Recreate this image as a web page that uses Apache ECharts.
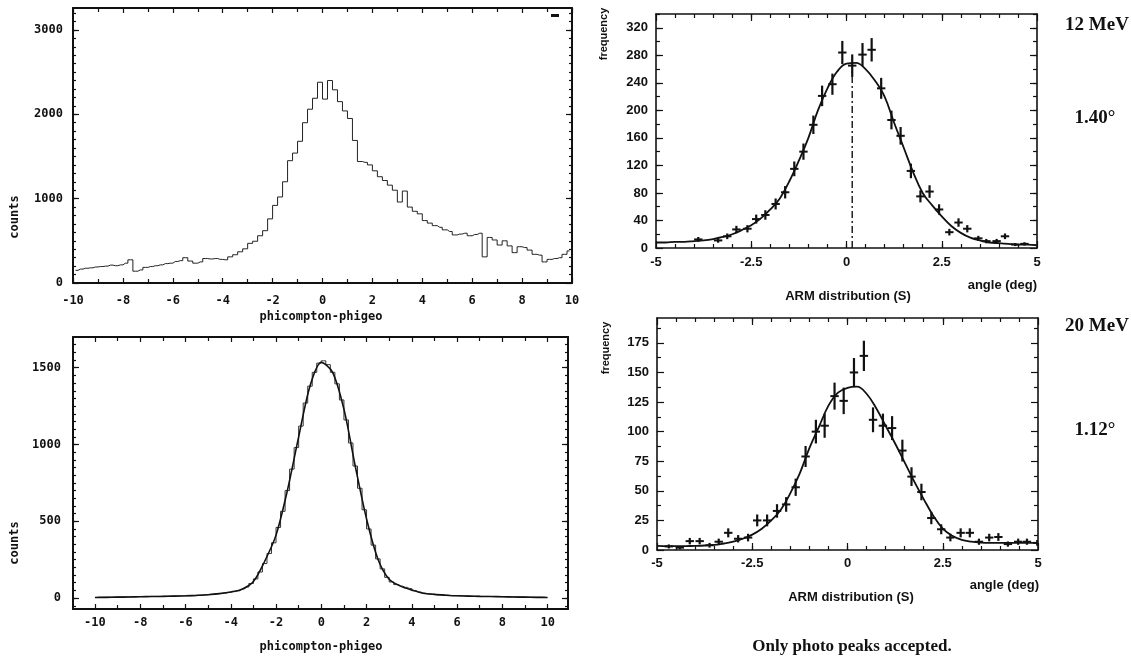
<!DOCTYPE html>
<html><head><meta charset="utf-8">
<script src="https://cdn.jsdelivr.net/npm/echarts@6/dist/echarts.min.js"></script>
<style>html,body{margin:0;padding:0;background:#fff}#c{width:1131px;height:660px}</style>
</head><body><div id="c"></div>
<script>
// ---------- DATA ----------
// Top-left: histogram phicompton-phigeo (bins of 0.2 from -10 to 10)
const tlBinStart = -10, tlBinWidth = 0.2;
const tlCounts = [
 150,165,175,180,190,195,200,212,205,215,
 235,275,140,155,185,195,205,215,230,235,
 255,265,300,260,235,250,290,285,290,280,
 275,310,335,370,405,470,495,560,620,760,
 920,1020,1200,1450,1540,1680,1900,2060,2190,2380,
 2180,2400,2290,2150,2040,1950,1690,1440,1430,1400,
 1330,1260,1215,1160,1100,960,1090,900,850,820,
 740,710,680,660,630,610,570,580,590,560,
 575,590,310,540,510,450,500,440,360,430,
 420,390,340,330,250,280,290,300,340,380];
// Bottom-left: histogram + fit
const blBinStart = -10, blBinWidth = 0.2;
const blCounts = [
 5,5,6,6,7,7,8,8,9,10,
 10,10,11,11,12,12,13,13,14,14,
 15,16,18,20,22,25,27,30,33,37,
 42,48,60,72,95,125,170,225,290,360,
 460,565,700,840,980,1120,1270,1380,1470,1530,
 1545,1520,1470,1395,1290,1160,1010,860,715,575,
 450,345,255,190,135,105,88,78,70,62,
 48,38,32,28,25,22,20,19,17,16,
 15,14,13,12,12,11,11,10,10,9,
 9,8,8,7,7,6,6,5,5,5];
const blFitX = [-10,-9.5,-9,-8.5,-8,-7.5,-7,-6.5,-6,-5.5,-5,-4.5,-4,-3.5,-3,-2.5,-2,-1.5,-1,-0.5,0,0.5,1,1.5,2,2.5,3,3.5,4,4.5,5,5.5,6,6.5,7,7.5,8,8.5,9,9.5,10];
const blFitY = [4,5,6,7,9,10,11,13,15,18,22,29,40,58,108,240,410,700,1050,1380,1535,1470,1230,860,515,255,122,78,52,32,24,19,15,13,11,10,9,7,6,5,4];

// Top-right: ARM distribution 12 MeV
const arm12X = [-3.89,-3.37,-3.13,-2.89,-2.6,-2.37,-2.13,-1.86,-1.61,-1.37,-1.13,-0.87,-0.64,-0.37,-0.11,0.15,0.42,0.66,0.91,1.18,1.42,1.69,1.94,2.18,2.43,2.70,2.94,3.17,3.46,3.67,3.94,4.16,4.43,4.67];
const arm12Y = [12.5,11,17,27,28,42,48,64,81,115,140,179,221,238,284,265,281,288,232,186,163,112,75,82,56,23,37,28,14,10,10,17,5,6];
const arm12Err = [3.5,3.3,4.1,5.2,5.3,6.5,6.9,8,9,10.7,11.8,13.4,14.9,15.4,16.9,16.3,16.8,17,15.2,13.6,12.8,10.6,8.7,9.1,7.5,4.8,6.1,5.3,3.7,3.2,3.2,4.1,2.2,2.4];
const armFitX = [-5,-4.75,-4.5,-4.25,-4,-3.75,-3.5,-3.25,-3,-2.75,-2.5,-2.25,-2,-1.75,-1.5,-1.25,-1,-0.75,-0.5,-0.25,0,0.25,0.5,0.75,1,1.25,1.5,1.75,2,2.25,2.5,2.75,3,3.25,3.5,3.75,4,4.25,4.5,4.75,5];
const arm12Fit = [8,8,9,9,10,11,13,16,20,26,33,43,56,72,97,127,160,200,232,256,268,269,260,243,220,182,146,110,80,62,46,32,22,15,11,8,7,6,5,5,4];
const arm12Centre = 0.15, arm12CentreTop = 265;

// Bottom-right: ARM distribution 20 MeV
const arm20X = [-4.69,-4.4,-4.14,-3.88,-3.62,-3.38,-3.13,-2.87,-2.61,-2.37,-2.11,-1.85,-1.61,-1.36,-1.10,-0.83,-0.60,-0.34,-0.10,0.17,0.43,0.67,0.93,1.17,1.44,1.68,1.94,2.2,2.46,2.70,2.97,3.21,3.45,3.72,3.96,4.21,4.48,4.71,4.98];
const arm20Y = [3,2,7.5,7.5,4,7,14.5,9.5,10.5,25,25,33,38.5,53,79,100,105,130,126,150,164,110,105,103,84,62,49,27,17.5,10.5,14.5,14.5,7,10.5,11,5,7,7,6];
const arm20Err = [1.7,1.4,2.7,2.7,2,2.6,3.8,3.1,3.2,5,5,5.7,6.2,7.3,8.9,10,10.2,11.4,11.2,12.2,12.8,10.5,10.2,10.1,9.2,7.9,7,5.2,4.2,3.2,3.8,3.8,2.6,3.2,3.3,2.2,2.6,2.6,2.4];
const arm20Fit = [3.5,3.3,3.2,3.3,3.5,3.8,4.3,5.5,7,9.5,13,18,25,34,48,65,86,104,122,133,137,138,132,120,105,90,74,58,43,29,18,12,8.5,7,6.2,6,6,6,6,6,6];

// Tick labels
const tlXLabels = [-10,-8,-6,-4,-2,0,2,4,6,8,10];
const tlYLabels = [0,1000,2000,3000];
const blXLabels = [-10,-8,-6,-4,-2,0,2,4,6,8,10];
const blYLabels = [0,500,1000,1500];
const armXLabels = [-5,-2.5,0,2.5,5];
const arm12YLabels = [0,40,80,120,160,200,240,280,320];
const arm20YLabels = [0,25,50,75,100,125,150,175];

// ---------- HELPERS ----------
function range(a, b, s) { const r = []; for (let v = a; v <= b + 1e-9; v += s) r.push(Math.round(v * 1000) / 1000); return r; }
const INK = '#111';
const plotFont = {fontFamily: '"DejaVu Sans Mono"', fontWeight: 'bold', fontSize: 12, color: INK};
const armFont = {fontFamily: '"Liberation Sans", Arial', fontWeight: 'bold', fontSize: 13, color: INK};

const xAxes = [], yAxes = [];
function frame(list, isX, grid, min, max, major, minor, labels, lab, majLen, minLen, lineW) {
  const start = list.length;
  (isX ? ['bottom', 'top'] : ['left', 'right']).forEach((p, i) => {
    [true, false].forEach(isMajor => {
      list.push({
        type: 'value', gridIndex: grid, position: p, min: min, max: max,
        axisLine: {show: isMajor, onZero: false, lineStyle: {color: INK, width: lineW}},
        axisTick: {show: true, inside: true, length: isMajor ? majLen : minLen,
                   customValues: isMajor ? major : minor, lineStyle: {color: INK, width: 1.2}},
        axisLabel: (i === 0 && isMajor) ? Object.assign({show: true, customValues: labels, margin: lab.margin,
                   formatter: v => String(v)}, lab.style) : {show: false},
        splitLine: {show: false}
      });
    });
  });
  return start;
}

// Grids: 0 TL, 1 BL, 2 TR, 3 BR
const grids = [
  {left: 73, top: 8, width: 499, height: 275},
  {left: 73, top: 337, width: 495, height: 272},
  {left: 656, top: 14, width: 381, height: 234},
  {left: 657, top: 318, width: 381, height: 232}
];

const tlx = frame(xAxes, true, 0, -10, 10, range(-10, 10, 2), range(-9, 9, 2), tlXLabels, {margin: 12, style: plotFont}, 5, 4, 2);
const tly = frame(yAxes, false, 0, 0, 3260, tlYLabels, range(100, 3200, 100), tlYLabels, {margin: 10, style: plotFont}, 6, 3, 2);
const blx = frame(xAxes, true, 1, -10.97, 10.9, range(-10, 10, 2), range(-9, 9, 2), blXLabels, {margin: 8, style: plotFont}, 5, 4, 2);
const bly = frame(yAxes, false, 1, -71, 1700, blYLabels, range(-50, 1650, 50), blYLabels, {margin: 12, style: plotFont}, 6, 3, 2);
const trx = frame(xAxes, true, 2, -5, 5, armXLabels, range(-4.5, 4.5, 0.5), armXLabels, {margin: 8, style: armFont}, 7, 4, 1.6);
const try_ = frame(yAxes, false, 2, 0, 340, arm12YLabels, range(20, 340, 20), arm12YLabels, {margin: 8, style: armFont}, 7, 4, 1.6);
const brx = frame(xAxes, true, 3, -5, 5, armXLabels, range(-4.5, 4.5, 0.5), armXLabels, {margin: 7, style: armFont}, 7, 4, 1.6);
const bry = frame(yAxes, false, 3, 0, 196, arm20YLabels, range(12.5, 187.5, 25), arm20YLabels, {margin: 8, style: armFont}, 7, 4, 1.6);

function hist(start, w, counts) { return counts.map((c, i) => [start + w * (i + 0.5), c]); }
function zip(xs, ys) { return xs.map((x, i) => [x, ys[i]]); }
function zip3(xs, ys, es) { return xs.map((x, i) => [x, ys[i], es[i]]); }

function crossRender(halfW) {
  return function (params, api) {
    const x = api.value(0), y = api.value(1), e = api.value(2);
    const a = api.coord([x, y + e]), b = api.coord([x, y - e]);
    const l = api.coord([x - halfW, y]), r = api.coord([x + halfW, y]);
    return {type: 'group', children: [
      {type: 'line', shape: {x1: a[0], y1: a[1], x2: b[0], y2: b[1]}, style: {stroke: INK, lineWidth: 2.2}},
      {type: 'line', shape: {x1: l[0], y1: l[1], x2: r[0], y2: r[1]}, style: {stroke: INK, lineWidth: 2}}
    ]};
  };
}

const series = [
  {type: 'line', xAxisIndex: tlx, yAxisIndex: tly, step: 'middle', showSymbol: false, silent: true,
   data: hist(tlBinStart, tlBinWidth, tlCounts), lineStyle: {color: '#222', width: 1}},
  {type: 'line', xAxisIndex: blx, yAxisIndex: bly, step: 'middle', showSymbol: false, silent: true,
   data: hist(blBinStart, blBinWidth, blCounts), lineStyle: {color: '#333', width: 1}},
  {type: 'line', xAxisIndex: blx, yAxisIndex: bly, smooth: 0.3, showSymbol: false, silent: true,
   data: zip(blFitX, blFitY), lineStyle: {color: INK, width: 1.6}},
  {type: 'line', xAxisIndex: trx, yAxisIndex: try_, smooth: 0.4, showSymbol: false, silent: true,
   data: zip(armFitX, arm12Fit), lineStyle: {color: INK, width: 1.8}},
  {type: 'line', xAxisIndex: trx, yAxisIndex: try_, showSymbol: false, silent: true,
   data: [[arm12Centre, 0], [arm12Centre, arm12CentreTop]], lineStyle: {color: INK, width: 1.4, type: [7, 3, 2, 3]}},
  {type: 'custom', xAxisIndex: trx, yAxisIndex: try_, clip: true, silent: true,
   renderItem: crossRender(0.11), encode: {x: 0, y: 1}, data: zip3(arm12X, arm12Y, arm12Err)},
  {type: 'line', xAxisIndex: brx, yAxisIndex: bry, smooth: 0.4, showSymbol: false, silent: true,
   data: zip(armFitX, arm20Fit), lineStyle: {color: INK, width: 1.8}},
  {type: 'custom', xAxisIndex: brx, yAxisIndex: bry, clip: true, silent: true,
   renderItem: crossRender(0.11), encode: {x: 0, y: 1}, data: zip3(arm20X, arm20Y, arm20Err)}
];

function txt(x, y, text, font, align, rot) {
  return {type: 'text', x: x, y: y, rotation: rot || 0, silent: true,
          style: {text: text, font: font, fill: INK, align: align || 'center', verticalAlign: 'middle'}};
}
const serifB = 'bold 19px "Liberation Serif", "Times New Roman", serif';
const armTitle = 'bold 13px "Liberation Sans", Arial, sans-serif';
const freqFont = 'bold 11px "Liberation Sans", Arial, sans-serif';
const plotTitle = 'bold 12px "DejaVu Sans Mono", monospace';
const graphics = [
  txt(15, 217, 'counts', plotTitle, 'center', Math.PI / 2),
  txt(15, 543, 'counts', plotTitle, 'center', Math.PI / 2),
  txt(321, 317, 'phicompton-phigeo', plotTitle, 'center'),
  txt(321, 647, 'phicompton-phigeo', plotTitle, 'center'),
  txt(604, 34, 'frequency', freqFont, 'center', Math.PI / 2),
  txt(606, 348, 'frequency', freqFont, 'center', Math.PI / 2),
  txt(1037, 285, 'angle (deg)', armTitle, 'right'),
  txt(1039, 585, 'angle (deg)', armTitle, 'right'),
  txt(848, 296, 'ARM distribution (S)', armTitle, 'center'),
  txt(851, 597, 'ARM distribution (S)', armTitle, 'center'),
  txt(1097, 25, '12 MeV', serifB, 'center'),
  txt(1095, 118, '1.40°', serifB, 'center'),
  txt(1097, 326, '20 MeV', serifB, 'center'),
  txt(1095, 430, '1.12°', serifB, 'center'),
  txt(852, 647, 'Only photo peaks accepted.', 'bold 17px "Liberation Serif", "Times New Roman", serif', 'center'),
  {type: 'rect', shape: {x: 551, y: 14, width: 8, height: 3}, style: {fill: INK}, silent: true}
];

const chart = echarts.init(document.getElementById('c'), null, {renderer: 'canvas'});
chart.setOption({
  animation: false,
  backgroundColor: '#fff',
  grid: grids,
  xAxis: xAxes,
  yAxis: yAxes,
  series: series,
  graphic: graphics
});
</script>
</body></html>
